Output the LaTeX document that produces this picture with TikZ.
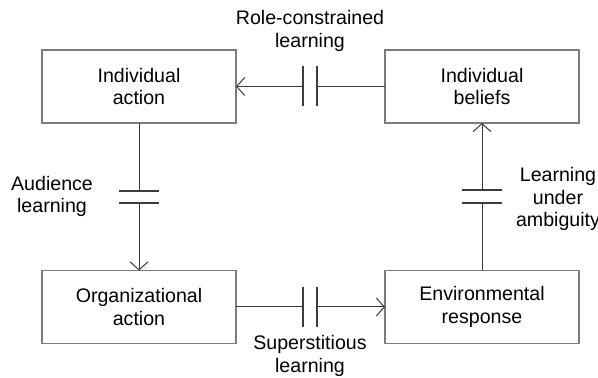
\documentclass[tikz,border=0pt]{standalone}
\usepackage{fontspec}
\setmainfont{Liberation Sans}
\usetikzlibrary{arrows.meta, calc}
\definecolor{BoxGray}{HTML}{7C7C7C}
\definecolor{LineGray}{HTML}{3C3C3C}
\tikzset{
  box/.style={draw=BoxGray, line width=0.65pt, align=center,
              font=\fontsize{9.8}{11.2}\selectfont,
              minimum width=97pt, minimum height=36.5pt, inner sep=0pt, outer sep=0pt},
  link/.style={draw=LineGray, line width=0.5pt},
  arr/.style={link, -{Straight Barb[length=4pt, width=9pt]}},
  plate/.style={draw=LineGray, line width=0.6pt},
  lbl/.style={align=center, font=\fontsize{9.8}{11.2}\selectfont, inner sep=0pt},
}

\begin{document}
\begin{tikzpicture}[x=0.5pt, y=-0.5pt]
  \clip (0,0) rectangle (598,378);
  \useasboundingbox (0,0) rectangle (598,378);

  \node[box] (indact)  at (139,86.5) {Individual\\action};
  \node[box] (indbel)  at (482,86.5) {Individual\\beliefs};
  \node[box] (orgact)  at (139,307)  {Organizational\\action};
  \node[box] (envresp) at (482,307)  {Environmental\\response};

  % gaps in the loop
  \coordinate (rc1) at (303,86.5);  \coordinate (rc2) at (317,86.5);
  \coordinate (ss1) at (303,307);   \coordinate (ss2) at (317,307);
  \coordinate (al1) at (139,191);   \coordinate (al2) at (139,203);
  \coordinate (la1) at (482,190);   \coordinate (la2) at (482,203);

  \draw[link] (indbel.west) -- (rc2);
  \draw[arr]  (rc1) -- (indact.east);
  \draw[link] (indact.south) -- (al1);
  \draw[arr]  (al2) -- (orgact.north);
  \draw[link] (orgact.east) -- (ss1);
  \draw[arr]  (ss2) -- (envresp.west);
  \draw[link] (envresp.north) -- (la2);
  \draw[arr]  (la1) -- (indbel.south);

  \foreach \c in {rc1,rc2,ss1,ss2}
    \draw[plate] ($(\c)+(0,-20)$) -- ($(\c)+(0,20)$);
  \foreach \c in {al1,al2,la1,la2}
    \draw[plate] ($(\c)+(-20,0)$) -- ($(\c)+(20,0)$);

  \node[lbl] (rolelbl)  at (310,31)  {Role-constrained\\learning};
  \node[lbl] (audlbl)   at (52,196.5) {Audience\\learning};
  \node[lbl] (supLbl)   at (310,356) {Superstitious\\learning};
  \node[lbl] (ambiglbl) at (558,199) {Learning\\under\\ambiguity};
\end{tikzpicture}
\end{document}
